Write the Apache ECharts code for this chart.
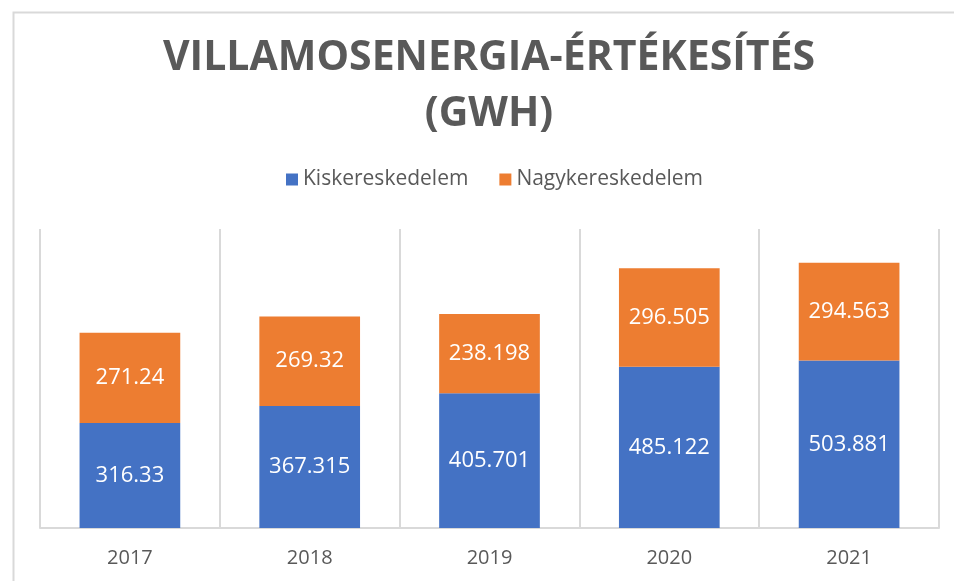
<!DOCTYPE html>
<html>
<head>
<meta charset="utf-8">
<script src="https://cdn.jsdelivr.net/npm/echarts@6/dist/echarts.min.js"></script>
<style>
  html, body { margin: 0; padding: 0; background: #fff; }
  #chart { width: 954px; height: 581px; }
</style>
</head>
<body>
<div id="chart"></div>
<script>
  // chart data
  var years = ['2017', '2018', '2019', '2020', '2021']
  var kisker = [316.33, 367.315, 405.701, 485.122, 503.881]
  var nagyker = [271.24, 269.32, 238.198, 296.505, 294.563]
  var seriesNames = ['Kiskereskedelem', 'Nagykereskedelem']

  var textGray = '#595959'
  var lineGray = '#D9D9D9'
  var font = 'Open Sans'

  var chart = echarts.init(document.getElementById('chart'))

  var labelStyle = {
    show: true,
    position: 'inside',
    color: '#fff',
    fontFamily: font,
    fontSize: 22,
    formatter: function (p) { return String(p.value) }
  }

  chart.setOption({
    animation: false,
    title: {
      text: 'VILLAMOSENERGIA-ÉRTÉKESÍTÉS\n(GWH)',
      left: 489,
      textAlign: 'center',
      top: 30,
      padding: 0,
      textStyle: {
        fontFamily: font,
        fontWeight: 'bold',
        fontSize: 41,
        lineHeight: 56,
        color: textGray
      }
    },
    legend: {
      top: 164,
      left: 281,
      icon: 'rect',
      itemWidth: 12,
      itemHeight: 12,
      itemGap: 31,
      textStyle: { fontFamily: font, fontSize: 21, color: textGray },
      data: seriesNames
    },
    graphic: [{
      type: 'rect',
      left: 11,
      top: 10,
      shape: { width: 980, height: 620 },
      style: { fill: 'none', stroke: lineGray, lineWidth: 2 },
      silent: true
    }],
    grid: { left: 40, right: 15, top: 229, bottom: 53 },
    xAxis: {
      type: 'category',
      data: years,
      axisLine: { lineStyle: { color: lineGray, width: 2 } },
      axisTick: { show: false },
      splitLine: { show: true, lineStyle: { color: lineGray, width: 2 } },
      axisLabel: { fontFamily: font, fontSize: 20, color: textGray, margin: 20 }
    },
    yAxis: {
      type: 'value',
      min: 0,
      max: 900,
      show: false,
      splitLine: { show: false }
    },
    series: [{
      name: seriesNames[0],
      type: 'bar',
      stack: 'total',
      barWidth: '56%',
      itemStyle: { color: '#4472C4' },
      label: labelStyle,
      data: kisker
    }, {
      name: seriesNames[1],
      type: 'bar',
      stack: 'total',
      barWidth: '56%',
      itemStyle: { color: '#ED7D31' },
      label: labelStyle,
      data: nagyker
    }]
  })
</script>
</body>
</html>
